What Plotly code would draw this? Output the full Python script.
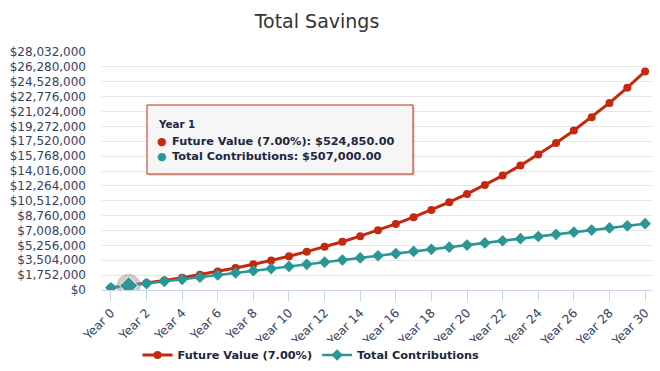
import plotly.graph_objects as go

years = [f"Year {i}" for i in range(31)]
future_value = [255000, 524850, 813590, 1122541, 1453119, 1806837, 2185316, 2590288,
                3023608, 3487260, 3983368, 4514204, 5082199, 5689952, 6340249, 7036067,
                7780591, 8577233, 9429639, 10341714, 11317634, 12361868, 13479199,
                14674743, 15953975, 17322753, 18787346, 20354460, 22031272, 23825461,
                25745243]
contributions = [255000, 507000, 759000, 1011000, 1263000, 1515000, 1767000, 2019000,
                 2271000, 2523000, 2775000, 3027000, 3279000, 3531000, 3783000, 4035000,
                 4287000, 4539000, 4791000, 5043000, 5295000, 5547000, 5799000, 6051000,
                 6303000, 6555000, 6807000, 7059000, 7311000, 7563000, 7815000]
ytick_vals = [i * 1752000 for i in range(17)]
ytick_text = ["$" + format(v, ",") for v in ytick_vals]
xtick_vals = years[::2]

RED = "#c4290f"
TEAL = "#2b9696"
FONT = "DejaVu Sans"
LABEL = "#34425f"
DARK = "#1d2740"

fig = go.Figure()
fig.add_trace(go.Scatter(x=years, y=future_value, mode="lines+markers",
                         name="Future Value (7.00%)",
                         line=dict(color=RED, width=3),
                         marker=dict(color=RED, size=8, symbol="circle")))
fig.add_trace(go.Scatter(x=years, y=contributions, mode="lines+markers",
                         name="Total Contributions",
                         line=dict(color=TEAL, width=2.5),
                         marker=dict(color=TEAL, size=9, symbol="diamond")))
# hover halo at Year 1
fig.add_trace(go.Scatter(x=[years[1]], y=[contributions[1]], mode="markers",
                         showlegend=False, hoverinfo="skip",
                         marker=dict(color="rgba(150,140,140,0.45)", size=24, symbol="circle")))
fig.add_trace(go.Scatter(x=[years[1]], y=[contributions[1]], mode="markers",
                         showlegend=False, hoverinfo="skip",
                         marker=dict(color=TEAL, size=14, symbol="diamond",
                                     line=dict(color="white", width=1))))

# page body has an 8px margin: work in reference pixel coords, offset by 8
OFF = 8
W, H = 660 - OFF, 371 - OFF
PL, PR, PT, PB = 102, 654, 52, 290  # plot area in reference pixels
L, R, T, B = PL - OFF, W - (PR - OFF), PT - OFF, H - (PB - OFF)
PW, PH = W - L - R, H - T - B


def px(x):
    return (x - PL) / PW


def py(y):
    return (PB - y) / PH


shapes = [
    dict(type="rect", xref="paper", yref="paper", x0=px(149), x1=px(415), y0=py(176), y1=py(107),
         fillcolor="rgba(0,0,0,0.12)", line=dict(width=0), layer="above"),
    dict(type="rect", xref="paper", yref="paper", x0=px(147), x1=px(413), y0=py(174), y1=py(105),
         fillcolor="rgba(247,247,247,0.95)", line=dict(color=RED, width=1), layer="above"),
]

annotations = [
    dict(xref="paper", yref="paper", x=px(156), y=py(124), xanchor="left", yanchor="middle",
         text="<b>Year 1</b>", showarrow=False, font=dict(family=FONT, size=10.3, color=DARK)),
    dict(xref="paper", yref="paper", x=px(155), y=py(141), xanchor="left", yanchor="middle",
         text="●", showarrow=False, font=dict(family=FONT, size=11, color=RED)),
    dict(xref="paper", yref="paper", x=px(170), y=py(141), xanchor="left", yanchor="middle",
         text="<b>Future Value (7.00%): $524,850.00</b>", showarrow=False,
         font=dict(family=FONT, size=11.3, color=DARK)),
    dict(xref="paper", yref="paper", x=px(155), y=py(156), xanchor="left", yanchor="middle",
         text="●", showarrow=False, font=dict(family=FONT, size=11, color=TEAL)),
    dict(xref="paper", yref="paper", x=px(170), y=py(156), xanchor="left", yanchor="middle",
         text="<b>Total Contributions: $507,000.00</b>", showarrow=False,
         font=dict(family=FONT, size=11.3, color=DARK)),
]

fig.update_layout(
    width=W, height=H,
    margin=dict(l=L, r=R, t=T, b=B, autoexpand=False),
    paper_bgcolor="white", plot_bgcolor="white",
    title=dict(text="Total Savings", xref="container", yref="container",
               x=(317 - OFF) / W, xanchor="center", y=1 - (21 - OFF) / H, yanchor="middle",
               font=dict(family=FONT, size=19, color="#333333")),
    showlegend=True,
    legend=dict(orientation="h", x=px(311), xanchor="center", y=py(355), yanchor="middle",
                font=dict(family=FONT, size=11.3, color=DARK, weight="bold"), itemwidth=30),
    xaxis=dict(type="category", range=[-0.5, 30.5], tickmode="array", tickvals=xtick_vals,
               ticktext=xtick_vals, tickangle=-45, ticks="outside", ticklen=10, tickcolor="#ccd6eb",
               showline=True, linecolor="#ccd6eb", linewidth=1, showgrid=False, zeroline=False,
               automargin=False,
               tickfont=dict(family=FONT, size=12.2, color=LABEL)),
    yaxis=dict(range=[0, 28032000], tickmode="array", tickvals=ytick_vals, ticktext=ytick_text,
               showgrid=True, gridcolor="#e6e6e6", gridwidth=1, zeroline=False, showline=False,
               automargin=False,
               tickfont=dict(family=FONT, size=12, color=LABEL), ticks="", ticklabelstandoff=15),
    shapes=shapes, annotations=annotations,
)

fig.write_html("out.html")
